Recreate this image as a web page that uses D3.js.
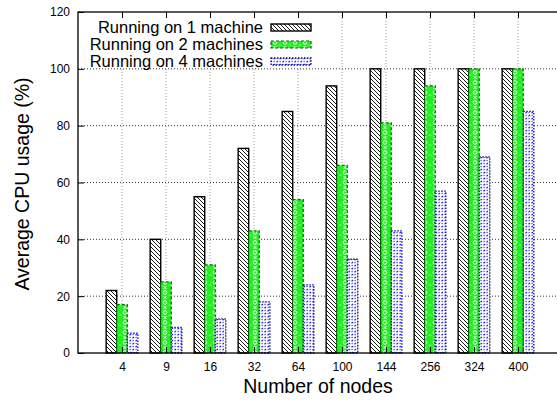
<!DOCTYPE html>
<html>
<head>
<meta charset="utf-8">
<script src="https://cdn.jsdelivr.net/npm/d3@7"></script>
<style>
  body { margin: 0; background: #fff; }
  svg { display: block; font-family: "Liberation Sans", Arial, sans-serif; }
</style>
</head>
<body>
<svg id="chart" width="557" height="400"></svg>
<script>
const categories = ["4", "9", "16", "32", "64", "100", "144", "256", "324", "400"];
const oneMachine   = [22, 40, 55, 72, 85, 94, 100, 100, 100, 100];
const twoMachines  = [17, 25, 31, 43, 54, 66, 81, 94, 100, 100];
const fourMachines = [7, 9, 12, 18, 24, 33, 43, 57, 69, 85];
const seriesNames = ["Running on 1 machine", "Running on 2 machines", "Running on 4 machines"];
const yTicks = [0, 20, 40, 60, 80, 100, 120];

(function () {
const svg = d3.select("#chart");
const pL = 78, pR = 562, pT = 12, pB = 353;

const x = d3.scaleLinear().domain([0, categories.length + 1]).range([pL, pR]);
const y = d3.scaleLinear().domain([0, 120]).range([pB, pT]);

// patterns
const defs = svg.append("defs");
const p1 = defs.append("pattern").attr("id", "hatch").attr("patternUnits", "userSpaceOnUse")
  .attr("width", 4).attr("height", 4);
p1.append("rect").attr("width", 4).attr("height", 4).attr("fill", "#fff");
p1.append("path").attr("d", "M0,0L4,4M-1,3L1,5M3,-1L5,1").attr("stroke", "#000").attr("stroke-width", 0.9);

const p2 = defs.append("pattern").attr("id", "green").attr("patternUnits", "userSpaceOnUse")
  .attr("width", 10).attr("height", 10).attr("x", 0).attr("y", 0);
p2.append("rect").attr("width", 10).attr("height", 10).attr("fill", "#22ee22");
p2.append("circle").attr("cx", 5).attr("cy", 2.5).attr("r", 1.8).attr("fill", "none").attr("stroke", "#fff").attr("stroke-width", 1);
p2.append("path").attr("d", "M3.5,6L6.5,9M6.5,6L3.5,9M0,4.5L1,5.5M10,4.5L9,5.5").attr("stroke", "#fff").attr("stroke-width", 0.9);

const p3 = defs.append("pattern").attr("id", "blue").attr("patternUnits", "userSpaceOnUse")
  .attr("width", 6).attr("height", 6);
p3.append("rect").attr("width", 6).attr("height", 6).attr("fill", "#fff");
p3.append("path").attr("d", "M0.5,2.2L2,1M3.5,5.2L5,4M3.6,1.6L4.6,1.4M0.6,4.6L1.6,4.4")
  .attr("stroke", "#1a1aff").attr("stroke-width", 1.2);

// gridlines
const grid = svg.append("g");
yTicks.forEach(t => {
  if (t === 0 || t === 120) return;
  grid.append("line").attr("x1", pL).attr("x2", pR).attr("y1", y(t)).attr("y2", y(t))
    .attr("stroke", "#000").attr("stroke-width", 0.8).attr("stroke-dasharray", "1,2");
});
categories.forEach((c, i) => {
  grid.append("line").attr("x1", x(i + 1)).attr("x2", x(i + 1)).attr("y1", pT).attr("y2", pB)
    .attr("stroke", "#888").attr("stroke-width", 0.8).attr("stroke-dasharray", "1,2");
});

// legend background (opaque)
svg.append("rect").attr("x", 86).attr("y", 14).attr("width", 230).attr("height", 53).attr("fill", "#fff");

// bars
const bw = 0.24;
const series = [
  { vals: oneMachine,   fill: "url(#hatch)", stroke: "#000",    sw: 1.4, dash: null },
  { vals: twoMachines,  fill: "url(#green)", stroke: "#0a6a0a", sw: 1.2, dash: "3,2" },
  { vals: fourMachines, fill: "url(#blue)",  stroke: "#10107a", sw: 1.3, dash: "1.5,1.5" }
];
series.forEach((s, si) => {
  svg.append("g").selectAll("rect").data(s.vals).join("rect")
    .attr("x", (d, i) => x(i + 1 + (si - 1) * bw - bw / 2))
    .attr("width", x(bw) - x(0))
    .attr("y", d => y(d))
    .attr("height", d => y(0) - y(d))
    .attr("fill", s.fill).attr("stroke", s.stroke).attr("stroke-width", s.sw)
    .attr("stroke-dasharray", s.dash);
});

// frame
svg.append("rect").attr("x", pL).attr("y", pT).attr("width", pR - pL).attr("height", pB - pT)
  .attr("fill", "none").attr("stroke", "#000").attr("stroke-width", 1.3);

// y ticks
const yAxis = d3.axisLeft(y).tickValues(yTicks).tickSize(-6).tickPadding(8);
const ga = svg.append("g").attr("transform", `translate(${pL},0)`).call(yAxis);
ga.select(".domain").remove();
ga.selectAll("text").attr("font-size", 12).attr("font-family", "Liberation Sans, Arial, sans-serif").attr("fill", "#000");
ga.selectAll("line").attr("stroke", "#000");

// x ticks
const xAxis = d3.axisBottom(x).tickValues(categories.map((c, i) => i + 1))
  .tickFormat((d) => categories[d - 1]).tickSize(-6).tickPadding(9);
const gx = svg.append("g").attr("transform", `translate(0,${pB})`).call(xAxis);
gx.select(".domain").remove();
gx.selectAll("text").attr("font-size", 12).attr("font-family", "Liberation Sans, Arial, sans-serif").attr("fill", "#000");
gx.selectAll("line").attr("stroke", "#000");
// mirror top ticks
const gxt = svg.append("g").attr("transform", `translate(0,${pT})`)
  .call(d3.axisTop(x).tickValues(categories.map((c, i) => i + 1)).tickSize(-6).tickFormat(""));
gxt.select(".domain").remove();
gxt.selectAll("line").attr("stroke", "#000");

// legend
const fills = ["url(#hatch)", "url(#green)", "url(#blue)"];
seriesNames.forEach((n, i) => {
  const yy = 27.5 + i * 17;
  svg.append("text").attr("x", 263).attr("y", yy + 5.5).attr("text-anchor", "end")
    .attr("font-size", 16.5).text(n);
  svg.append("rect").attr("x", 271).attr("y", yy - 3.5).attr("width", 40).attr("height", 7)
    .attr("fill", fills[i]).attr("stroke", series[i].stroke).attr("stroke-width", series[i].sw)
    .attr("stroke-dasharray", series[i].dash);
});

// axis titles
svg.append("text").attr("x", 318).attr("y", 393).attr("text-anchor", "middle")
  .attr("font-size", 19.5).text("Number of nodes");
svg.append("text").attr("transform", "translate(29,184) rotate(-90)").attr("text-anchor", "middle")
  .attr("font-size", 19.5).text("Average CPU usage (%)");
})();
</script>
</body>
</html>
